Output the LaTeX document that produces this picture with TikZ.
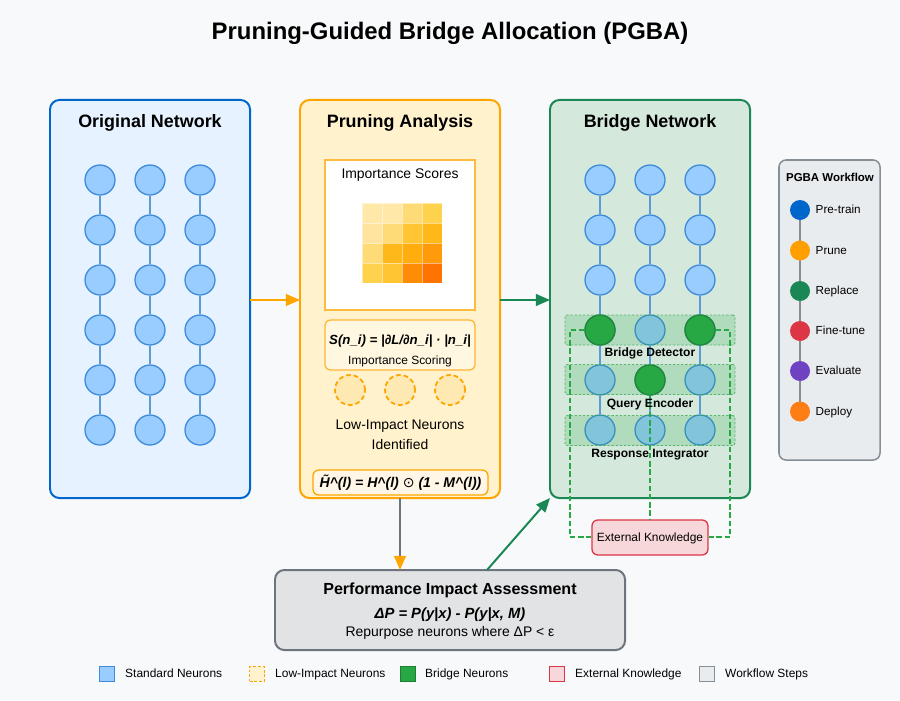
\documentclass[tikz,border=0pt]{standalone}
\usepackage{fontspec}
\setmainfont{Liberation Sans}
\newfontfamily\dejavu{DejaVu Sans}
\usetikzlibrary{arrows.meta}
\definecolor{bgc}{HTML}{F8F9FA}
\definecolor{origfill}{HTML}{E6F2FF}
\definecolor{origdraw}{HTML}{0066CC}
\definecolor{prunefill}{HTML}{FFF2CC}
\definecolor{prunedraw}{HTML}{FFA500}
\definecolor{bridgefill}{HTML}{D4E8DC}
\definecolor{bridgedraw}{HTML}{1A8754}
\definecolor{nfill}{HTML}{99CCFF}
\definecolor{ndraw}{HTML}{3D8BD9}
\definecolor{conncol}{HTML}{5B9BD5}
\definecolor{gfill}{HTML}{28A745}
\definecolor{gdraw}{HTML}{1E7E34}
\definecolor{lowfill}{HTML}{FFE9B3}
\definecolor{extfill}{HTML}{F8D7DA}
\definecolor{extdraw}{HTML}{DC3545}
\definecolor{wffill}{HTML}{E9ECEF}
\definecolor{wfdraw}{HTML}{868E96}
\definecolor{perffill}{HTML}{E2E3E5}
\definecolor{perfdraw}{HTML}{6C757D}
\definecolor{cPre}{HTML}{0066CC}
\definecolor{cPrune}{HTML}{FF9F00}
\definecolor{cRep}{HTML}{1A8754}
\definecolor{cFine}{HTML}{DC3545}
\definecolor{cEval}{HTML}{6F42C1}
\definecolor{cDep}{HTML}{FD7E14}
\definecolor{h1}{HTML}{FFE8A8}
\definecolor{h2}{HTML}{FFE4A0}
\definecolor{h3}{HTML}{FFDB78}
\definecolor{h4}{HTML}{FFD24D}
\definecolor{h5}{HTML}{FFC533}
\definecolor{h6}{HTML}{FFB81A}
\definecolor{h7}{HTML}{FFAE0D}
\definecolor{h8}{HTML}{FF9A0A}
\definecolor{h9}{HTML}{FF8C05}
\definecolor{h10}{HTML}{FF7300}
\tikzset{
  panel/.style={draw, line width=1.7pt, rounded corners=8pt, inner sep=0pt, outer sep=0pt},
  ptitle/.style={font=\fontsize{15.3}{17}\selectfont\bfseries, text height=1.5ex, text depth=0.25ex},
  neuron/.style={circle, minimum size=0.9cm, inner sep=0pt, draw=ndraw, fill=nfill, line width=1.1pt},
  gneuron/.style={circle, minimum size=0.9cm, inner sep=0pt, draw=gdraw, fill=gfill, line width=1.1pt},
  lowneuron/.style={circle, minimum size=0.9cm, inner sep=0pt, draw=prunedraw, fill=lowfill, line width=1.5pt, dash pattern=on 4pt off 2.5pt},
  conn/.style={draw=conncol, line width=1.6pt},
  hl/.style={draw=gfill, draw opacity=0.7, fill=gfill, fill opacity=0.2, dash pattern=on 2pt off 1.5pt, line width=0.8pt, rounded corners=2pt, minimum width=5.1cm, minimum height=0.9cm, inner sep=0pt},
  hllabel/.style={font=\fontsize{10.3}{12}\selectfont\bfseries},
  gdash/.style={draw=gfill, line width=1.6pt, dash pattern=on 4.5pt off 2.5pt},
  body/.style={font=\fontsize{11.9}{14}\selectfont},
  small/.style={font=\fontsize{10.2}{12}\selectfont},
  legtext/.style={font=\fontsize{10.2}{12}\selectfont, anchor=west, inner sep=0pt, text height=1.5ex, text depth=0.25ex},
  wfdot/.style={circle, minimum size=0.6cm, inner sep=0pt},
  legbox/.style={minimum size=0.44cm, inner sep=0pt, line width=0.9pt},
  cell/.style={minimum size=0.6cm, inner sep=0pt, draw=white, draw opacity=0.5, line width=0.4pt},
  arr/.style={line width=1.7pt, -{Triangle[length=12pt, width=10pt]}}
}
\begin{document}
\begin{tikzpicture}[x=0.03cm, y=-0.03cm]
\fill[bgc] (0,0) rectangle (900,700);
\useasboundingbox (0,0) rectangle (900,700);

% title
\node (title) at (450,33) {\fontsize{20.4}{24}\selectfont\bfseries Pruning-Guided Bridge Allocation (PGBA)};

% ---------- Original network ----------
\node[panel, draw=origdraw, fill=origfill, minimum width=6cm, minimum height=11.94cm] (orig) at (150,299) {};
\node[ptitle] (origt) at (150,124) {Original Network};
\foreach \c/\x in {1/100,2/150,3/200}{
  \foreach \r/\y in {1/180,2/230,3/280,4/330,5/380,6/430}{
    \node[neuron] (o\c\r) at (\x,\y) {};
  }
  \foreach \a/\b in {1/2,2/3,3/4,4/5,5/6}{
    \draw[conn] (o\c\a) -- (o\c\b);
  }
}

% ---------- Pruning analysis ----------
\node[panel, draw=prunedraw, fill=prunefill, minimum width=6cm, minimum height=11.94cm] (prune) at (400,299) {};
\node[ptitle] (prunet) at (400,124) {Pruning Analysis};
\node[draw=prunedraw!75, fill=white, line width=1.1pt, minimum width=4.5cm, minimum height=4.5cm, inner sep=0pt] (imp) at (400,235) {};
\node[body] (impt) at (400,175) {Importance Scores};
% heatmap
\foreach \i/\j/\col in {0/0/h1,0/1/h1,0/2/h3,0/3/h4,
                        1/0/h2,1/1/h3,1/2/h5,1/3/h6,
                        2/0/h3,2/1/h6,2/2/h7,2/3/h8,
                        3/0/h4,3/1/h5,3/2/h9,3/3/h10}{
  \node[cell, fill=\col] (cell\i\j) at ({372+20*\j},{213+20*\i}) {};
}
\node[draw=prunedraw!80, fill=prunefill!60, line width=1.1pt, rounded corners=5pt, minimum width=4.5cm, minimum height=1.5cm, inner sep=0pt] (score) at (400,345) {};
\node[font=\fontsize{11.3}{13}\selectfont] (scoref) at (400,341) {\bfseries\itshape S(n\_i) = |∂L/∂n\_i| · |n\_i|};
\node[small] (scoret) at (400,361) {Importance Scoring};
\node[lowneuron] (l1) at (350,390) {};
\node[lowneuron] (l2) at (400,390) {};
\node[lowneuron] (l3) at (450,390) {};
\node[body] (lowt1) at (400,426) {Low-Impact Neurons};
\node[body] (lowt2) at (400,445) {Identified};
\node[draw=prunedraw, fill=prunefill!85!orange!30, line width=1.1pt, rounded corners=5pt, minimum width=5.25cm, minimum height=0.75cm, inner sep=0pt] (mask) at (400.5,482.5) {};
\node[font=\fontsize{12}{14}\selectfont] (maskf) at (400.5,482.5) {\bfseries\itshape \~{H}\textasciicircum(l) = H\textasciicircum(l) {\dejavu\mdseries\upshape ⊙} (1 - M\textasciicircum(l))};

% ---------- Bridge network ----------
\node[panel, draw=bridgedraw, fill=bridgefill, minimum width=6cm, minimum height=11.94cm] (bridge) at (650,299) {};
\node[ptitle] (bridget) at (650,124) {Bridge Network};
\foreach \c/\x in {1/600,2/650,3/700}{
  \foreach \r/\y in {1/180,2/230,3/280,4/330,5/380,6/430}{
    \node[neuron] (b\c\r) at (\x,\y) {};
  }
  \foreach \a/\b in {1/2,2/3,3/4,4/5,5/6}{
    \draw[conn] (b\c\a) -- (b\c\b);
  }
}
\node[gneuron] (g14) at (600,330) {};
\node[gneuron] (g34) at (700,330) {};
\node[gneuron] (g25) at (650,380) {};
\node[hl] (hl1) at (650,330) {};
\node[hl] (hl2) at (650,379.5) {};
\node[hl] (hl3) at (650,430.5) {};

% external knowledge
\node[draw=extdraw, fill=extfill, line width=1.1pt, rounded corners=5pt, minimum width=3.48cm, minimum height=1.05cm, inner sep=0pt] (ext) at (650,537.5) {};
\node[small] (extt) at (650,538) {External Knowledge};
\coordinate (dl1) at (570,330);
\coordinate (dl2) at (570,537);
\coordinate (dr1) at (730,330);
\coordinate (dr2) at (730,537);
\draw[gdash] (g14.west) -- (dl1) -- (dl2) -- (ext.west |- dl2);
\draw[gdash] (g34.east) -- (dr1) -- (dr2) -- (ext.east |- dr2);
\draw[gdash] (g25.south) -- (ext.north);
\node[hllabel] (hlt1) at (650,353) {Bridge Detector};
\node[hllabel] (hlt2) at (650,404) {Query Encoder};
\node[hllabel] (hlt3) at (650,455) {Response Integrator};

% ---------- Workflow ----------
\node[panel, draw=wfdraw, fill=wffill, line width=1.3pt, rounded corners=6pt, minimum width=3.03cm, minimum height=9cm] (wf) at (829.5,310) {};
\node[font=\fontsize{9.8}{11}\selectfont\bfseries] (wft) at (830,177) {PGBA Workflow};
\draw[draw=wfdraw, line width=1.7pt] (800,210) -- (800,411);
\foreach \n/\y/\col/\t in {1/210/cPre/Pre-train,2/250.5/cPrune/Prune,3/291/cRep/Replace,4/331/cFine/Fine-tune,5/371/cEval/Evaluate,6/411.5/cDep/Deploy}{
  \node[wfdot, fill=\col] (wd\n) at (800,\y) {};
  \node[font=\fontsize{10}{12}\selectfont, anchor=west, inner sep=0pt, text height=1.5ex, text depth=0.25ex] (wl\n) at (815.5,\y) {\t};
}

% ---------- Performance ----------
\node[panel, draw=perfdraw, fill=perffill, minimum width=10.5cm, minimum height=2.4cm] (perf) at (450,610) {};
\node[font=\fontsize{13.7}{16}\selectfont\bfseries] (perft) at (450,590) {Performance Impact Assessment};
\node[font=\fontsize{12.6}{15}\selectfont] (perff) at (450,615) {\bfseries\itshape ΔP = P(y|x) - P(y|x, M)};
\node[body] (perfr) at (450,633) {Repurpose neurons where ΔP < ε};

% ---------- arrows ----------
\draw[arr, draw=prunedraw, -{Triangle[length=12pt, width=10pt, color=prunedraw]}] (orig.east |- 0,300) -- (prune.west |- 0,300);
\draw[arr, draw=bridgedraw, -{Triangle[length=12pt, width=10pt, color=bridgedraw]}] (prune.east |- 0,300) -- (bridge.west |- 0,300);
\draw[line width=1.7pt, draw=perfdraw, -{Triangle[length=12pt, width=10pt, color=prunedraw]}] (prune.south) -- (perf.north -| prune.south);
\coordinate (pstart) at (487,570);
\draw[arr, draw=bridgedraw, -{Triangle[length=12pt, width=10pt, color=bridgedraw]}] (pstart) -- (bridge.south west);

% ---------- legend ----------
\node[legbox, draw=ndraw, fill=nfill] (lg1) at (107,674) {};
\node[legtext] (lgt1) at (125,674) {Standard Neurons};
\node[legbox, draw=prunedraw, fill=prunefill, dash pattern=on 2.5pt off 1.5pt] (lg2) at (257,674) {};
\node[legtext] (lgt2) at (275,674) {Low-Impact Neurons};
\node[legbox, draw=gdraw, fill=gfill] (lg3) at (408,674) {};
\node[legtext] (lgt3) at (425,674) {Bridge Neurons};
\node[legbox, draw=extdraw, fill=extfill] (lg4) at (557,674) {};
\node[legtext] (lgt4) at (575,674) {External Knowledge};
\node[legbox, draw=wfdraw, fill=wffill] (lg5) at (707,674) {};
\node[legtext] (lgt5) at (725,674) {Workflow Steps};
\end{tikzpicture}
\end{document}
